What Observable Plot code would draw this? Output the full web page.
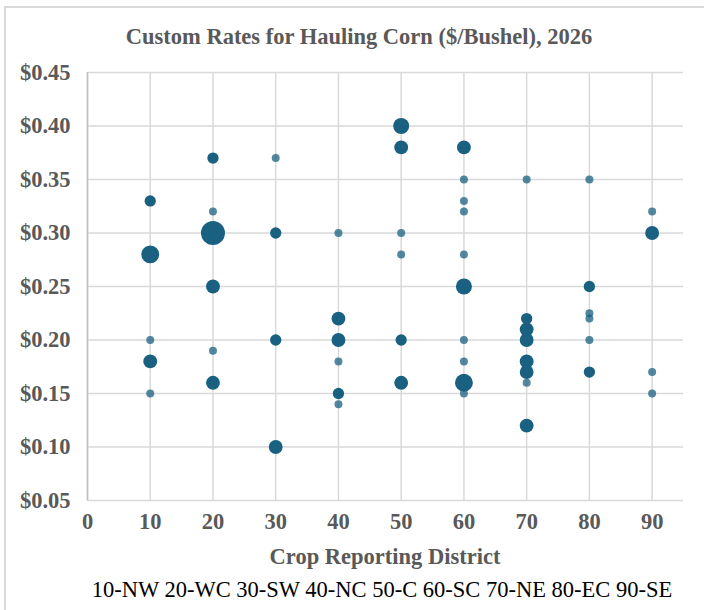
<!DOCTYPE html>
<html>
<head>
<meta charset="utf-8">
<script src="https://cdn.jsdelivr.net/npm/d3@7"></script>
<script src="https://cdn.jsdelivr.net/npm/@observablehq/plot@0.6"></script>
<style>
  html, body { margin: 0; padding: 0; background: #fff; }
  #wrap { position: relative; width: 704px; height: 610px; overflow: hidden; }
  #frame { position: absolute; left: 4px; top: 6px; width: 720px; height: 640px; border: 2px solid #d9d9d9; box-sizing: border-box; }
  #title { position: absolute; left: 0; width: 718px; top: 24px; text-align: center; line-height: 26px;
           font-family: "Liberation Serif", "DejaVu Serif", serif; font-weight: bold; font-size: 22.5px; color: #595959; }
  #chart { position: absolute; left: 0; top: 0; }
  #xtitle { position: absolute; left: 87px; width: 596px; top: 544px; text-align: center; line-height: 26px;
           font-family: "Liberation Serif", serif; font-weight: bold; font-size: 22.5px; color: #595959; }
  #caption { position: absolute; left: 87px; width: 590px; top: 577px; text-align: center; line-height: 26px;
           font-family: "Liberation Serif", serif; font-size: 22.5px; color: #000; white-space: nowrap; }
</style>
</head>
<body>
<div id="wrap">
  <div id="frame"></div>
  <div id="title">Custom Rates for Hauling Corn ($/Bushel), 2026</div>
  <div id="chart"></div>
  <div id="xtitle">Crop Reporting District</div>
  <div id="caption">10-NW 20-WC 30-SW 40-NC 50-C 60-SC 70-NE 80-EC 90-SE</div>
</div>
<script>
// Crop reporting district of each observation group
const district = [
  10, 10, 10, 10, 10,
  20, 20, 20, 20, 20, 20,
  30, 30, 30, 30,
  40, 40, 40, 40, 40, 40,
  50, 50, 50, 50, 50, 50,
  60, 60, 60, 60, 60, 60, 60, 60, 60, 60,
  70, 70, 70, 70, 70, 70, 70, 70,
  80, 80, 80, 80, 80, 80,
  90, 90, 90, 90
];
// Rate ($/bushel)
const rate = [
  0.33, 0.28, 0.20, 0.18, 0.15,
  0.37, 0.32, 0.30, 0.25, 0.19, 0.16,
  0.37, 0.30, 0.20, 0.10,
  0.30, 0.22, 0.20, 0.18, 0.15, 0.14,
  0.40, 0.38, 0.30, 0.28, 0.20, 0.16,
  0.38, 0.35, 0.33, 0.32, 0.28, 0.25, 0.20, 0.18, 0.16, 0.15,
  0.35, 0.22, 0.21, 0.20, 0.18, 0.17, 0.16, 0.12,
  0.35, 0.25, 0.225, 0.22, 0.20, 0.17,
  0.32, 0.30, 0.17, 0.15
];
// Number of responses at that rate (bubble size)
const responses = [
  2, 5, 1, 3, 1,
  2, 1, 9, 3, 1, 3,
  1, 2, 2, 3,
  1, 3, 3, 1, 2, 1,
  4, 3, 1, 1, 2, 3,
  3, 1, 1, 1, 1, 4, 1, 1, 5, 1,
  1, 2, 3, 3, 3, 3, 1, 3,
  1, 2, 1, 1, 1, 2,
  1, 3, 1, 1
];
const xTicks = [0, 10, 20, 30, 40, 50, 60, 70, 80, 90];
const yTicks = [0.05, 0.10, 0.15, 0.20, 0.25, 0.30, 0.35, 0.40, 0.45];

const data = district.map((d, i) => ({district: d, rate: rate[i], n: responses[i]}));

const chart = Plot.plot({
  width: 704,
  height: 545,
  marginTop: 72,
  marginBottom: 45,
  marginLeft: 87,
  marginRight: 21,
  style: {background: "transparent", fontFamily: "'Liberation Serif', serif"},
  x: {domain: [0, 95], ticks: xTicks, label: null},
  y: {domain: [0.05, 0.45], ticks: yTicks, label: null},
  r: {domain: [0, 9], range: [0, 12]},
  marks: [
    Plot.ruleX(xTicks, {stroke: "#d9d9d9", strokeWidth: 1.5}),
    Plot.ruleY(yTicks, {stroke: "#d9d9d9", strokeWidth: 1.5}),
    Plot.ruleX([0], {stroke: "#bfbfbf", strokeWidth: 1.5}),
    Plot.axisX({ticks: xTicks, tickSize: 0, tickPadding: 13, label: null,
      fontSize: 22.5, fontWeight: "bold", fill: "#595959"}),
    Plot.axisY({ticks: yTicks, tickSize: 0, tickPadding: 17, label: null,
      tickFormat: d => "$" + d.toFixed(2),
      fontSize: 22.5, fontWeight: "bold", fill: "#595959"}),
    Plot.dot(data, {
      x: "district", y: "rate", r: "n",
      fill: "#1a6080",
      fillOpacity: d => d.n === 1 ? 0.75 : 1,
      stroke: null
    })
  ]
});
document.getElementById("chart").appendChild(chart);
</script>
</body>
</html>
